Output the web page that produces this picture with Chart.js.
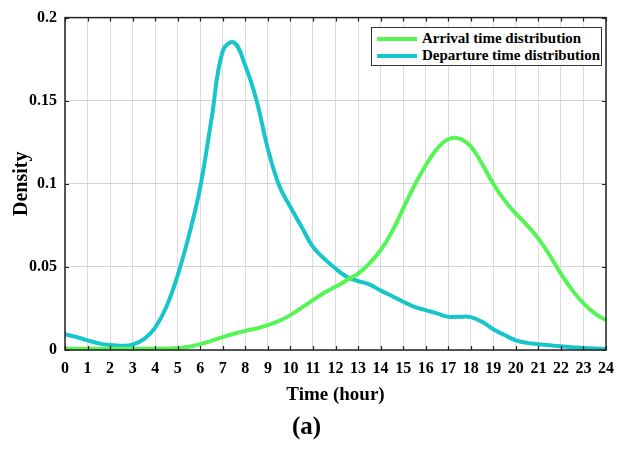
<!DOCTYPE html>
<html>
<head>
<meta charset="utf-8">
<script src="https://cdn.jsdelivr.net/npm/chart.js@4.4.1/dist/chart.umd.min.js"></script>
<style>
    body { margin: 0; background: #fff; }
    #wrap { position: relative; width: 623px; height: 450px; }
    #legend {
        position: absolute; left: 371px; top: 27px; width: 229px; height: 37px;
        border: 1.5px solid #333; background: #fff;
        font: bold 15px "Liberation Serif", "Times New Roman", serif; color: #000;
    }
    #legend .row { position: absolute; left: 5px; height: 17px; line-height: 17px; white-space: nowrap; }
    #legend .swatch { display: inline-block; width: 40px; height: 4px; vertical-align: middle; margin-right: 5px; margin-top: -2px; }
</style>
</head>
<body>
<div id="wrap">
    <canvas id="chart" width="623" height="450"></canvas>
    <div id="legend"></div>
</div>
<script>
// hours sampled every half hour
const hours = [0, 0.5, 1, 1.5, 2, 2.5, 3, 3.5, 4, 4.5, 5, 5.5, 6, 6.5, 7, 7.5, 8, 8.5, 9, 9.5, 10, 10.5, 11, 11.5,
    12, 12.5, 13, 13.5, 14, 14.5, 15, 15.5, 16, 16.5, 17, 17.5, 18, 18.5, 19, 19.5, 20, 20.5, 21, 21.5, 22, 22.5, 23, 23.5, 24];
const arrival = [0.0008, 0.0008, 0.0008, 0.0008, 0.0008, 0.0008, 0.0008, 0.0008, 0.0008, 0.0009, 0.0012, 0.002,
    0.0035, 0.0055, 0.0078, 0.0098, 0.0115, 0.013, 0.015, 0.0175, 0.021, 0.0255, 0.030, 0.0345,
    0.038, 0.042, 0.046, 0.052, 0.060, 0.071, 0.085, 0.099, 0.111, 0.121, 0.1268, 0.1272, 0.1225, 0.112,
    0.100, 0.090, 0.082, 0.075, 0.067, 0.057, 0.046, 0.036, 0.028, 0.022, 0.018];
const departure = [0.0095, 0.0078, 0.0058, 0.004, 0.003, 0.0026, 0.0032, 0.0065, 0.0135, 0.026, 0.045, 0.069,
    0.098, 0.139, 0.180, 0.185, 0.171, 0.150, 0.121, 0.099, 0.086, 0.074, 0.062, 0.055,
    0.049, 0.044, 0.0415, 0.0395, 0.0358, 0.0325, 0.029, 0.026, 0.024, 0.022, 0.020, 0.020, 0.0198, 0.017,
    0.0125, 0.009, 0.0058, 0.0043, 0.0035, 0.0028, 0.0022, 0.0017, 0.0012, 0.0009, 0.0006];
const seriesNames = ["Arrival time distribution", "Departure time distribution"];
const seriesColors = ["#55f555", "#17c6ca"];

const serif = "'Liberation Serif', 'Times New Roman', serif";

// inward tick marks on all four sides of the box
const boxTicks = {
    id: "boxTicks",
    afterDatasetsDraw(chart) {
        const { ctx, chartArea: a, scales: { x, y } } = chart;
        const len = 4;
        ctx.save();
        ctx.strokeStyle = "#222";
        ctx.lineWidth = 1.2;
        ctx.beginPath();
        x.ticks.forEach((t) => {
            const px = Math.round(x.getPixelForValue(t.value)) + 0.5;
            ctx.moveTo(px, a.bottom); ctx.lineTo(px, a.bottom - len);
            ctx.moveTo(px, a.top); ctx.lineTo(px, a.top + len);
        });
        y.ticks.forEach((t) => {
            const py = Math.round(y.getPixelForValue(t.value)) + 0.5;
            ctx.moveTo(a.left, py); ctx.lineTo(a.left + len, py);
            ctx.moveTo(a.right, py); ctx.lineTo(a.right - len, py);
        });
        ctx.stroke();
        ctx.lineWidth = 1.5;
        ctx.strokeRect(a.left, a.top, a.right - a.left, a.bottom - a.top);
        ctx.restore();
    }
};

const ctx = document.getElementById("chart");
new Chart(ctx, {
    type: "line",
    data: {
        datasets: [
            {
                label: seriesNames[0],
                data: hours.map((h, i) => ({ x: h, y: arrival[i] })),
                borderColor: seriesColors[0],
                borderWidth: 4,
                pointRadius: 0,
                tension: 0.4,
            },
            {
                label: seriesNames[1],
                data: hours.map((h, i) => ({ x: h, y: departure[i] })),
                borderColor: seriesColors[1],
                borderWidth: 4,
                pointRadius: 0,
                tension: 0.4,
            },
        ],
    },
    options: {
        responsive: false,
        animation: false,
        layout: { padding: { top: 15, right: 10, left: 0, bottom: 0 } },
        scales: {
            x: {
                type: "linear",
                min: 0,
                max: 24,
                ticks: { stepSize: 1, padding: 9, color: "#000", font: { family: serif, size: 16, weight: "bold" } },
                grid: { color: "#dcdcdc", drawTicks: false },
                border: { display: false },
                title: {
                    display: true,
                    text: "Time (hour)",
                    color: "#000",
                    font: { family: serif, size: 19, weight: "bold" },
                    padding: { top: 0, bottom: 7 },
                },
                afterFit: (scale) => { scale.height = 63; },
            },
            y: {
                min: 0,
                max: 0.2,
                ticks: {
                    stepSize: 0.05, padding: 8, color: "#000",
                    font: { family: serif, size: 16, weight: "bold" },
                    callback: (v) => String(Number(v.toFixed(2))),
                },
                grid: { color: "#d4d4d4", drawTicks: false },
                border: { display: false },
                title: {
                    display: true,
                    text: "Density",
                    color: "#000",
                    font: { family: serif, size: 20, weight: "bold" },
                    padding: { top: 10, bottom: 0 },
                },
                afterFit: (scale) => { scale.width = 65; },
            },
        },
        plugins: {
            legend: { display: false },
            tooltip: { enabled: false },
            title: {
                display: true,
                position: "bottom",
                text: "(a)",
                color: "#000",
                font: { family: serif, size: 25, weight: "bold" },
                padding: { top: 0, bottom: 7 },
            },
        },
    },
    plugins: [boxTicks],
});

// html legend in the top right corner of the plot
const legend = document.getElementById("legend");
seriesNames.forEach((name, i) => {
    const row = document.createElement("div");
    row.className = "row";
    row.style.top = (2 + i * 17) + "px";
    row.innerHTML = '<span class="swatch" style="background:' + seriesColors[i] + '"></span>' + name;
    legend.appendChild(row);
});
</script>
</body>
</html>
